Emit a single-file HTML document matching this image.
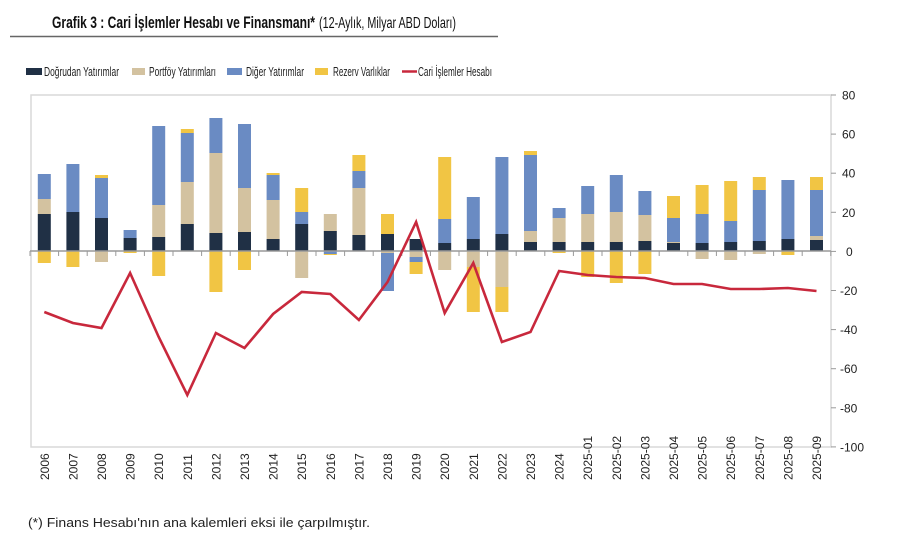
<!DOCTYPE html>
<html><head><meta charset="utf-8"><style>
body{margin:0;background:#fff;}
svg{display:block;font-family:"Liberation Sans",sans-serif;}
</style></head><body>
<svg width="902" height="543" viewBox="0 0 902 543" xmlns="http://www.w3.org/2000/svg">
<text x="52" y="28" font-size="17" font-weight="bold" fill="#111" textLength="263" lengthAdjust="spacingAndGlyphs">Grafik 3 : Cari İşlemler Hesabı ve Finansmanı*</text>
<text x="319" y="28" font-size="16" fill="#111" textLength="137" lengthAdjust="spacingAndGlyphs">(12-Aylık, Milyar ABD Doları)</text>
<line x1="10" y1="36.5" x2="498" y2="36.5" stroke="#666" stroke-width="1.5"/>
<g font-size="13" fill="#222">
<rect x="26" y="68" width="16" height="7" fill="#203045"/><text x="44" y="76" textLength="75" lengthAdjust="spacingAndGlyphs">Doğrudan Yatırımlar</text>
<rect x="132" y="68" width="13" height="7" fill="#d3c2a0"/><text x="149" y="76" textLength="67" lengthAdjust="spacingAndGlyphs">Portföy Yatırımları</text>
<rect x="227" y="68" width="15" height="7" fill="#6a8bc3"/><text x="246" y="76" textLength="58" lengthAdjust="spacingAndGlyphs">Diğer Yatırımlar</text>
<rect x="315" y="68" width="13" height="7" fill="#f1c544"/><text x="333" y="76" textLength="57" lengthAdjust="spacingAndGlyphs">Rezerv Varlıklar</text>
<line x1="402" y1="71.5" x2="417" y2="71.5" stroke="#c8283c" stroke-width="2.5"/><text x="418" y="76" textLength="74" lengthAdjust="spacingAndGlyphs">Cari İşlemler Hesabı</text>
</g>
<rect x="31" y="95" width="800" height="352" fill="none" stroke="#d9d9d9" stroke-width="1.5"/>
<g id="bars"></g>
<line x1="30" y1="251" x2="831" y2="251" stroke="#999" stroke-width="1.5"/>
<g id="ticks" stroke="#999" stroke-width="1"></g>
<g id="yax" font-size="12" fill="#222"></g>
<g id="xax" font-size="12" fill="#222"></g>
<polyline id="line" fill="none" stroke="#c8283c" stroke-width="2.6" stroke-linejoin="miter"/>
<text x="28" y="527" font-size="13" fill="#222" textLength="342" lengthAdjust="spacingAndGlyphs">(*) Finans Hesabı'nın ana kalemleri eksi ile çarpılmıştır.</text>
</svg>
<script>
var NS="http://www.w3.org/2000/svg";
function el(p,t,a,txt){var e=document.createElementNS(NS,t);for(var k in a)e.setAttribute(k,a[k]);if(txt)e.textContent=txt;document.getElementById(p).appendChild(e);return e;}
var C={d:"#203045",t:"#d3c2a0",b:"#6a8bc3",y:"#f1c544"};
var pos=[
[214,199,174,null],[212,null,164,null],[218,null,178,175],[238,null,230,null],[237,205,126,null],
[224,182,133,129],[233,153,118,null],[232,188,124,null],[239,200,175,173],[224,null,212,188],
[231,214,null,null],[235,188,171,155],[234,null,null,214],[239,null,null,null],[243,null,219,157],
[239,null,197,null],[234,null,157,null],[242,231,155,151],[242,218,208,null],[242,214,186,null],
[242,212,175,null],[241,215,191,null],[243,242,218,196],[243,null,214,185],[242,null,221,181],
[241,null,190,177],[239,null,180,null],[240,236,190,177]];
var neg=[
[["y",263]],[["y",267]],[["t",262]],[["y",253]],[["y",276]],
[],[["y",292]],[["y",270]],[],[["t",278]],
[["b",254],["y",255]],[],[["t",253],["b",291]],[["t",257],["b",262],["y",274]],[["t",270]],
[["t",267],["y",312]],[["t",287],["y",312]],[],[["y",253]],[["y",277]],
[["y",283]],[["y",274]],[],[["t",259]],[["t",260]],
[["t",254]],[["y",255]],[]];
var line=[312,323,328,273,337,395,333,348,314,292,294,320,282,222,313,263,342,332,271,275,277,278,284,284,289,289,288,291];
var labels=[];for(var i=2006;i<=2024;i++)labels.push(""+i);for(var m=1;m<=9;m++)labels.push("2025-0"+m);
var pts=[];
for(var i=0;i<28;i++){
 var cx=44.3+28.6*i, bx=cx-6.5, w=13;
 var base=251, keys=["d","t","b","y"];
 for(var k=0;k<4;k++){var tp=pos[i][k];if(tp!==null){el("bars","rect",{x:bx,y:tp,width:w,height:base-tp,fill:C[keys[k]]});base=tp;}}
 var nb=251;neg[i].forEach(function(s){el("bars","rect",{x:bx,y:nb,width:w,height:s[1]-nb,fill:C[s[0]]});nb=s[1];});
 pts.push(cx+","+line[i]);
 el("xax","text",{transform:"translate("+(cx+4.5)+",480) rotate(-90)"},labels[i]);
 var tx=cx+14.3;el("ticks","line",{x1:tx,y1:251,x2:tx,y2:256});
}
el("ticks","line",{x1:30,y1:251,x2:30,y2:256});
document.getElementById("line").setAttribute("points",pts.join(" "));
for(var j=0;j<10;j++){var v=80-20*j,yy=95+39.1*j;el("ticks","line",{x1:831,y1:yy,x2:836,y2:yy});el("yax","text",{x:v<0?840:(v==0?846:842),y:yy+4.5},""+v);}
</script>
</body></html>
